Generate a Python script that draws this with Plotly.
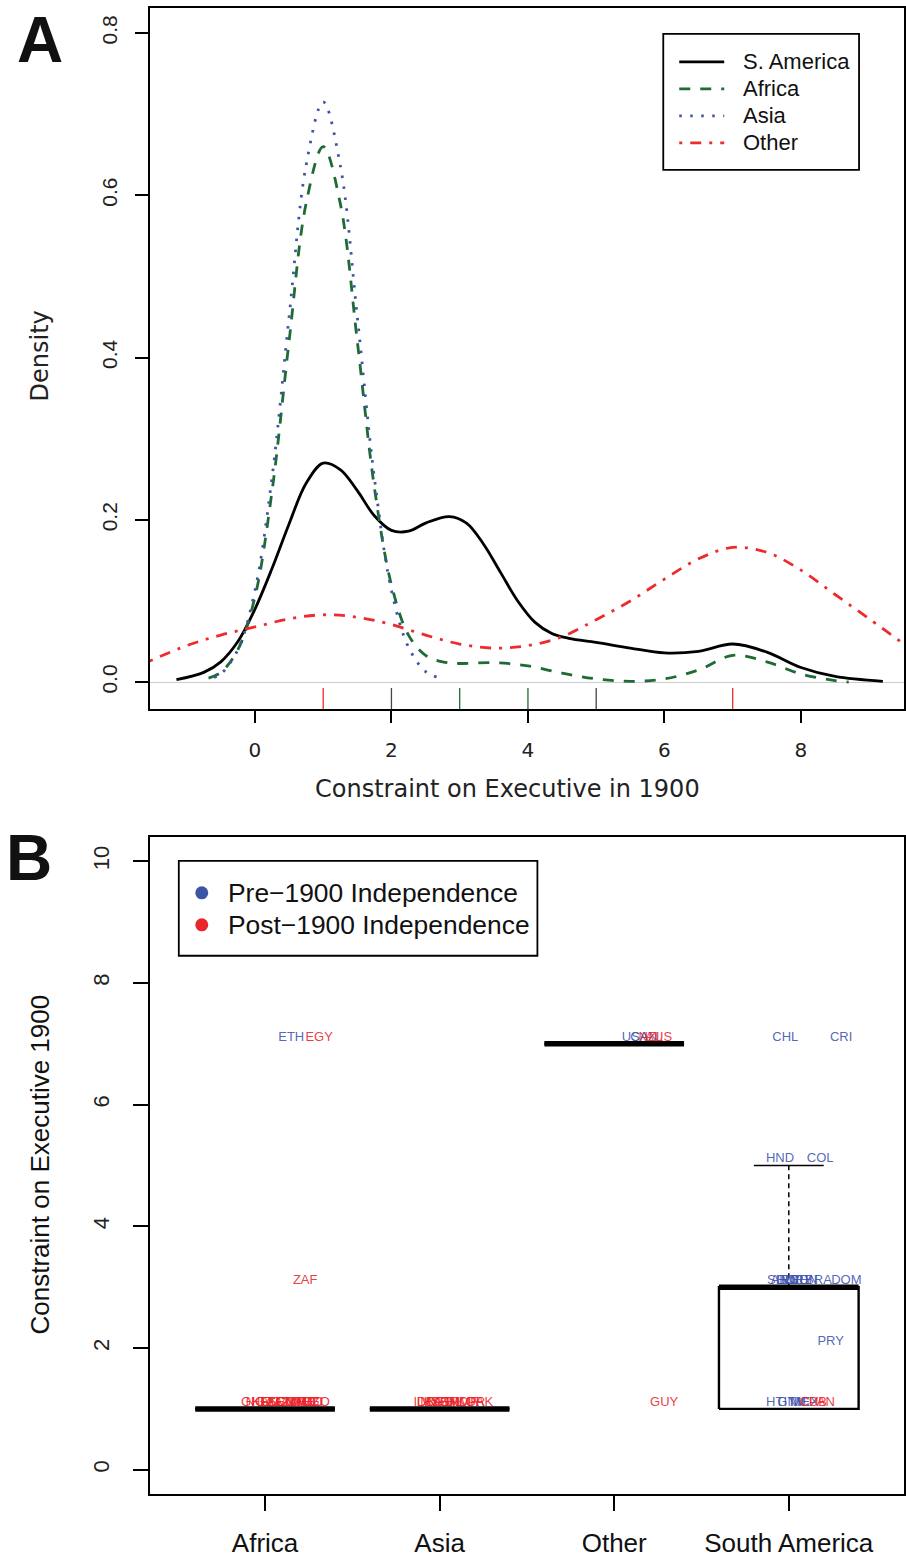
import plotly.graph_objects as go

W, H = 906, 1558
def PX(p): return p / W
def PY(p): return 1 - p / H

# ---------------- Panel A data (density curves) ----------------
sam_x = [-1.15, -0.75, -0.5, -0.25, 0, 0.25, 0.5, 0.75, 1.0, 1.25, 1.5, 1.75, 2.0, 2.25, 2.5, 2.85, 3.1,
         3.35, 3.6, 3.85, 4.1, 4.35, 4.6, 5.0, 5.5, 6.0, 6.5, 7.0, 7.5, 8.0, 8.5, 9.2]
sam_y = [0.003, 0.012, 0.025, 0.05, 0.09, 0.14, 0.195, 0.245, 0.27, 0.262, 0.236, 0.205, 0.187, 0.186, 0.196,
         0.204, 0.196, 0.17, 0.135, 0.10, 0.074, 0.06, 0.054, 0.049, 0.042, 0.036, 0.038, 0.047, 0.037, 0.018,
         0.007, 0.001]

afr_x = [-0.68, -0.5, -0.25, 0, 0.25, 0.5, 0.75, 1.0, 1.25, 1.5, 1.75, 2.0, 2.25, 2.5, 2.75, 3.0, 3.5, 4.0,
         4.5, 5.0, 5.5, 6.0, 6.5, 7.0, 7.5, 8.0, 8.5, 8.7]
afr_y = [0.005, 0.012, 0.04, 0.105, 0.235, 0.42, 0.59, 0.66, 0.59, 0.42, 0.24, 0.12, 0.058, 0.033, 0.025, 0.023,
         0.024, 0.02, 0.011, 0.004, 0.001, 0.004, 0.015, 0.033, 0.025, 0.01, 0.002, 0.0]

asia_x = [-0.6, -0.5, -0.25, 0, 0.25, 0.5, 0.75, 1.0, 1.25, 1.5, 1.75, 2.0, 2.25, 2.5, 2.68]
asia_y = [0.006, 0.01, 0.04, 0.113, 0.252, 0.45, 0.637, 0.715, 0.637, 0.45, 0.252, 0.113, 0.043, 0.013, 0.006]

oth_x = [-1.54, -1.0, -0.5, 0, 0.5, 1.0, 1.5, 2.0, 2.5, 3.0, 3.5, 4.0, 4.5, 5.0, 5.5, 6.0, 6.5, 7.0, 7.5,
         8.0, 8.5, 9.0, 9.51]
oth_y = [0.026, 0.045, 0.058, 0.068, 0.078, 0.083, 0.080, 0.071, 0.058, 0.047, 0.042, 0.045, 0.056, 0.077,
         0.100, 0.127, 0.152, 0.166, 0.160, 0.138, 0.108, 0.078, 0.047]

rug_x = [1, 2, 3, 4, 5, 7]
rug_col = ["#EE2A2E", "#444444", "#1E6B35", "#1E6B35", "#444444", "#EE2A2E"]

series_names = ["S. America", "Africa", "Asia", "Other"]
series_colors = ["black", "#1E6B35", "#3B54A4", "#EE2A2E"]
series_dash = ["solid", "11px,10px", "2.5px,8.5px", "3px,8px,11px,8px"]

# ---------------- Panel B data ----------------
categories = ["Africa", "Asia", "Other", "South America"]
box_q1 = [1, 1, 7, 1]
box_med = [1, 1, 7, 3]
box_q3 = [1, 1, 7, 3]
box_lo = [1, 1, 7, 1]
box_hi = [1, 1, 7, 5]

lab_text = ["ETH", "EGY", "ZAF",
            "GHA", "NGA", "KEN", "TZA", "UGA", "SEN", "CIV", "CMR", "ZWE", "ZMB", "MOZ", "AGO", "MLI", "TGO",
            "IDN", "LKA", "MYS", "BGD", "SGP", "PHL", "IND", "MMR", "KOR", "PAK",
            "USA", "CAN", "NZL", "AUS", "GUY",
            "CHL", "CRI", "HND", "COL",
            "SLV", "ARG", "BOL", "ECU", "URY", "VEN", "BRA", "DOM",
            "PRY",
            "HTI", "GTM", "NIC", "MEX", "CUB", "PAN"]
lab_cat = [0, 0, 0,
           0, 0, 0, 0, 0, 0, 0, 0, 0, 0, 0, 0, 0, 0,
           1, 1, 1, 1, 1, 1, 1, 1, 1, 1,
           2, 2, 2, 2, 2,
           3, 3, 3, 3,
           3, 3, 3, 3, 3, 3, 3, 3,
           3,
           3, 3, 3, 3, 3, 3]
lab_jit = [0.15, 0.31, 0.23,
           -0.057, -0.03, 0.0, 0.03, 0.06, 0.09, 0.12, 0.15, 0.18, 0.21, 0.23, 0.25, 0.27, 0.29,
           -0.086, -0.06, -0.03, 0.0, 0.03, 0.06, 0.10, 0.14, 0.18, 0.235,
           0.12, 0.17, 0.21, 0.255, 0.286,
           -0.02, 0.30, -0.05, 0.18,
           -0.057, -0.023, 0.006, 0.034, 0.057, 0.09, 0.17, 0.33,
           0.24,
           -0.07, 0.017, 0.057, 0.09, 0.14, 0.19]
lab_val = [7, 7, 3,
           1, 1, 1, 1, 1, 1, 1, 1, 1, 1, 1, 1, 1, 1,
           1, 1, 1, 1, 1, 1, 1, 1, 1, 1,
           7, 7, 7, 7, 1,
           7, 7, 5, 5,
           3, 3, 3, 3, 3, 3, 3, 3,
           2,
           1, 1, 1, 1, 1, 1]
lab_pre = [True, False, False,
           False, False, False, False, False, False, False, False, False, False, False, False, False, False,
           False, False, False, False, False, False, False, False, False, False,
           True, True, False, False, False,
           True, True, True, True,
           True, True, True, True, True, True, True, True,
           True,
           True, True, True, True, False, False]

group_names = ["Pre\u22121900 Independence", "Post\u22121900 Independence"]
BLUE = "#3B54A4"
RED = "#E8262B"
BLUE_T = "rgba(62,84,176,0.9)"
RED_T = "rgba(236,36,42,0.9)"

fig = go.Figure()

# ---- Panel A curves ----
for xs, ys, nm, col, ds in zip([sam_x, afr_x, asia_x, oth_x], [sam_y, afr_y, asia_y, oth_y],
                               series_names, series_colors, series_dash):
    fig.add_trace(go.Scatter(x=xs, y=ys, mode="lines", name=nm, showlegend=False,
                             line=dict(color=col, width=2.8, dash=ds, shape="spline"), xaxis="x", yaxis="y"))

# ---- Panel B boxes ----
for i in range(len(categories)):
    bx = [i - 0.4, i + 0.4, i + 0.4, i - 0.4, i - 0.4]
    by = [box_q1[i], box_q1[i], box_q3[i], box_q3[i], box_q1[i]]
    fig.add_trace(go.Scatter(x=bx, y=by, mode="lines", line=dict(color="black", width=2.4), showlegend=False, xaxis="x2", yaxis="y2", hoverinfo="skip"))
    fig.add_trace(go.Scatter(x=[i, i, None, i, i], y=[box_q3[i], box_hi[i], None, box_q1[i], box_lo[i]], mode="lines", line=dict(color="black", width=1.5, dash="5px,4px"), showlegend=False, xaxis="x2", yaxis="y2", hoverinfo="skip"))
    fig.add_trace(go.Scatter(x=[i - 0.2, i + 0.2, None, i - 0.2, i + 0.2], y=[box_hi[i], box_hi[i], None, box_lo[i], box_lo[i]], mode="lines", line=dict(color="black", width=1.5), showlegend=False, xaxis="x2", yaxis="y2", hoverinfo="skip"))
    fig.add_trace(go.Scatter(x=[i - 0.4, i + 0.4], y=[box_med[i], box_med[i]], mode="lines", line=dict(color="black", width=5.5), showlegend=False, xaxis="x2", yaxis="y2", hoverinfo="skip"))

# ---- Panel B labels ----
for flag, col, nm in ((True, BLUE_T, group_names[0]), (False, RED_T, group_names[1])):
    xs = [lab_cat[k] + lab_jit[k] for k in range(len(lab_text)) if lab_pre[k] == flag]
    ys = [lab_val[k] for k in range(len(lab_text)) if lab_pre[k] == flag]
    ts = [lab_text[k] for k in range(len(lab_text)) if lab_pre[k] == flag]
    fig.add_trace(go.Scatter(x=xs, y=ys, text=ts, mode="text", textposition="top center", name=nm,
                             textfont=dict(family="Liberation Sans", size=13, color=col),
                             showlegend=False, xaxis="x2", yaxis="y2"))

shapes = []
annotations = []
for rx, rc in zip(rug_x, rug_col):
    shapes.append(dict(type="line", xref="x", yref="y domain", x0=rx, x1=rx, y0=0, y1=0.03,
                       line=dict(color=rc, width=1.3)))

# legend A (frame, samples, labels)
shapes.append(dict(type="rect", xref="paper", yref="paper", x0=PX(664), x1=PX(860), y0=PY(170), y1=PY(34),
                   line=dict(color="black", width=1.8)))
for k, (nm, col, ds) in enumerate(zip(series_names, series_colors, series_dash)):
    yy = 62 + 27 * k
    shapes.append(dict(type="line", xref="paper", yref="paper", x0=PX(680), x1=PX(725), y0=PY(yy), y1=PY(yy),
                       line=dict(color=col, width=2.8, dash=ds)))
    annotations.append(dict(text=nm, x=PX(742), y=PY(yy), xref="paper", yref="paper", showarrow=False,
                            xanchor="left", yanchor="middle",
                            font=dict(family="Liberation Sans", size=22, color="#111")))

# legend B
shapes.append(dict(type="rect", xref="paper", yref="paper", x0=PX(179), x1=PX(538), y0=PY(957), y1=PY(862),
                   line=dict(color="black", width=1.8)))
for k, (nm, col) in enumerate(zip(group_names, [BLUE, RED])):
    yy = 894 + 32 * k
    shapes.append(dict(type="circle", xref="paper", yref="paper", x0=PX(202 - 6.5), x1=PX(202 + 6.5),
                       y0=PY(yy + 6.5), y1=PY(yy - 6.5), fillcolor=col, line=dict(color=col, width=0)))
    annotations.append(dict(text=nm, x=PX(226), y=PY(yy), xref="paper", yref="paper", showarrow=False,
                            xanchor="left", yanchor="middle",
                            font=dict(family="Liberation Sans", size=26.4, color="#111")))

annotations += [
    dict(text="<b>A</b>", x=PX(40), y=PY(40), xref="paper", yref="paper", showarrow=False,
         font=dict(family="Liberation Sans", size=64, color="#111"), xanchor="center", yanchor="middle"),
    dict(text="<b>B</b>", x=PX(29), y=PY(859), xref="paper", yref="paper", showarrow=False,
         font=dict(family="Liberation Sans", size=64, color="#111"), xanchor="center", yanchor="middle"),
    dict(text="Density", x=PX(40), y=PY(356), xref="paper", yref="paper", showarrow=False, textangle=-90,
         font=dict(family="DejaVu Sans", size=24, color="#222"), xanchor="center", yanchor="middle"),
    dict(text="Constraint on Executive in 1900", x=PX(508), y=PY(790), xref="paper", yref="paper", showarrow=False,
         font=dict(family="DejaVu Sans", size=24, color="#222"), xanchor="center", yanchor="middle"),
    dict(text="Constraint on Executive 1900", x=PX(40), y=PY(1166), xref="paper", yref="paper", showarrow=False,
         textangle=-90, font=dict(family="Liberation Sans", size=26, color="#111"), xanchor="center", yanchor="middle"),
]

axis_common = dict(showline=True, mirror=True, linecolor="black", linewidth=1.8, ticks="outside",
                   tickcolor="black", tickwidth=1.6, showgrid=False)

fig.update_layout(
    width=W, height=H, margin=dict(l=0, r=0, t=0, b=0),
    paper_bgcolor="white", plot_bgcolor="white", showlegend=False,
    xaxis=dict(domain=[PX(150), PX(905)], anchor="y", range=[-1.54, 9.51], tickvals=[0, 2, 4, 6, 8],
               ticklen=12, ticklabelstandoff=10, tickfont=dict(family="DejaVu Sans", size=20, color="#222"),
               zeroline=False, **axis_common),
    yaxis=dict(domain=[PY(710), PY(8)], anchor="x", range=[-0.0332, 0.8308], tickvals=[0, 0.2, 0.4, 0.6, 0.8],
               ticktext=["0.0", "0.2", "0.4", "0.6", "0.8"], tickangle=-90, ticklen=13, ticklabelstandoff=10,
               tickfont=dict(family="Liberation Sans", size=21, color="#222"),
               zeroline=True, zerolinecolor="#CCCCCC", zerolinewidth=1.2, **axis_common),
    xaxis2=dict(domain=[PX(150), PX(905)], anchor="y2", range=[-0.66, 3.66], tickvals=[0, 1, 2, 3],
                ticktext=categories, ticklen=15, ticklabelstandoff=10,
                tickfont=dict(family="Liberation Sans", size=26, color="#111"),
                zeroline=False, **axis_common),
    yaxis2=dict(domain=[PY(1496), PY(838)], anchor="x2", range=[-0.4, 10.4], tickvals=[0, 2, 4, 6, 8, 10],
                tickangle=-90, ticklen=15, ticklabelstandoff=15,
                tickfont=dict(family="Liberation Sans", size=22, color="#222"),
                zeroline=False, **axis_common),
    shapes=shapes,
    annotations=annotations,
)

# remove the default 8px page margin so the figure sits at the window's origin; hide the mode bar
fig.write_html("out.html", config={"displayModeBar": False},
               post_script="document.body.style.margin='0px';")
